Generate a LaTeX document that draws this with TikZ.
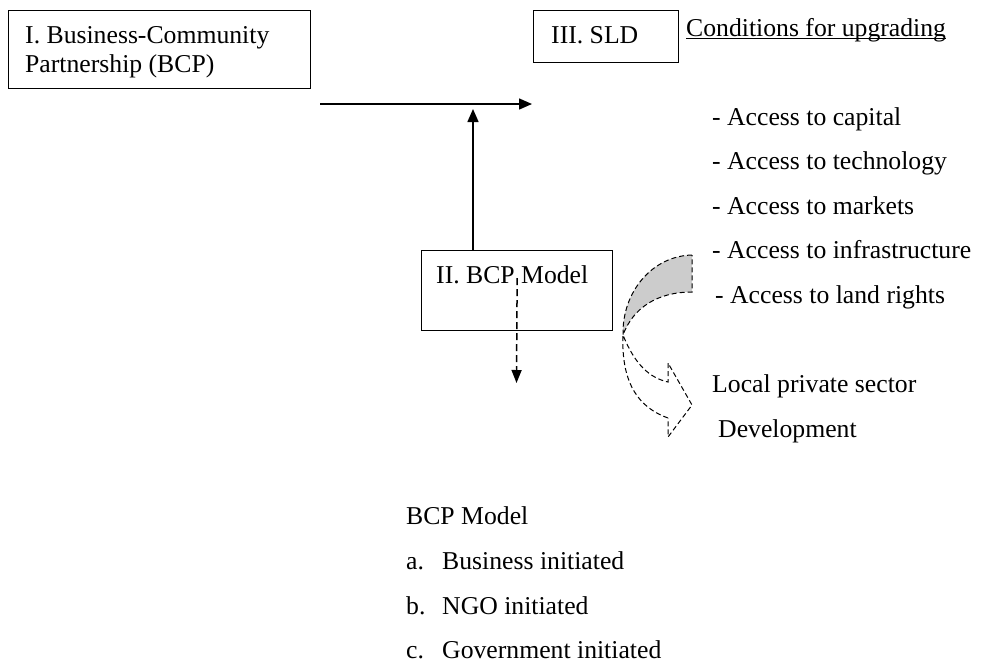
\documentclass[tikz,border=0pt]{standalone}
\usepackage{fontspec}
\setmainfont{Liberation Serif}
\usetikzlibrary{arrows.meta}
\begin{document}
\begin{tikzpicture}[x=1pt,y=-1pt,
  every node/.style={font=\fontsize{25.7}{30}\selectfont},
  txt/.style={anchor=base west, inner sep=0pt},
  boxed/.style={draw, line width=1.3pt, anchor=north west, inner sep=0pt},
  flow/.style={line width=1.5pt, -{Triangle[length=13pt,width=11pt]}},
  dflow/.style={line width=1.5pt, dash pattern=on 7pt off 4pt, -{Triangle[length=13pt,width=10pt]}},
  outline/.style={line width=1pt, dash pattern=on 5pt off 3pt}]
\useasboundingbox (0,0) rectangle (982,662);

% boxes
\node[boxed, minimum width=302pt, minimum height=78pt] (bcpbox) at (8,10) {};
\node[boxed, minimum width=145pt, minimum height=52pt] (sldbox) at (533,10) {};
\node[boxed, minimum width=191pt, minimum height=80pt] (modelbox) at (421,250) {};

% box texts
\node[txt] (bcpA) at (25,43) {I. Business-Community};
\node[txt] (bcpB) at (25,72) {Partnership (BCP)};
\node[txt] (sld) at (551,43) {III. SLD};
\node[txt] (model) at (436,283) {II. BCP Model};

% conditions for upgrading
\node[txt] (cond) at (686,36) {Conditions for upgrading};
\draw[line width=1.3pt] ([yshift=-2.5pt]cond.base west) -- ([yshift=-2.5pt]cond.base east);
\node[txt] (c1) at (712,125) {- Access to capital};
\node[txt] (c2) at (712,169) {- Access to technology};
\node[txt] (c3) at (712,214) {- Access to markets};
\node[txt] (c4) at (712,258) {- Access to infrastructure};
\node[txt] (c5) at (715,303) {- Access to land rights};

\node[txt] (lpsA) at (712,392) {Local private sector};
\node[txt] (lpsB) at (718,437) {Development};

% BCP model list
\node[txt] (lst) at (406,524) {BCP Model};
\node[txt] (la) at (406,569) {a.};
\node[txt] (lat) at (442,569) {Business initiated};
\node[txt] (lb) at (406,614) {b.};
\node[txt] (lbt) at (442,614) {NGO initiated};
\node[txt] (lc) at (406,658) {c.};
\node[txt] (lct) at (442,658) {Government initiated};

% connectors
\coordinate (hstart) at (320,104);
\coordinate (hend) at (532,104);
\coordinate (vtip) at (473,109);
\coordinate (dtip) at (516.5,383);
\draw[flow] (hstart) -- (hend);
\draw[flow] (vtip |- modelbox.north) -- (vtip);
\draw[dflow] ([yshift=-28pt]modelbox.north) -- (dtip);

% curved arrow towards local private sector development
\fill[gray!40] (692,255) .. controls (652,256) and (622,292) .. (623,335)
  .. controls (633,308) and (657,292) .. (692,292) -- cycle;
\draw[outline] (692,255) .. controls (652,256) and (622,292) .. (623,335)
  .. controls (633,308) and (657,292) .. (692,292) -- cycle;
\draw[outline] (668,418) .. controls (640,408) and (621,385) .. (623,335)
  .. controls (635,365) and (650,378) .. (668,382) -- (668,363)
  -- (692,405) -- (668,437) -- cycle;
\end{tikzpicture}
\end{document}
